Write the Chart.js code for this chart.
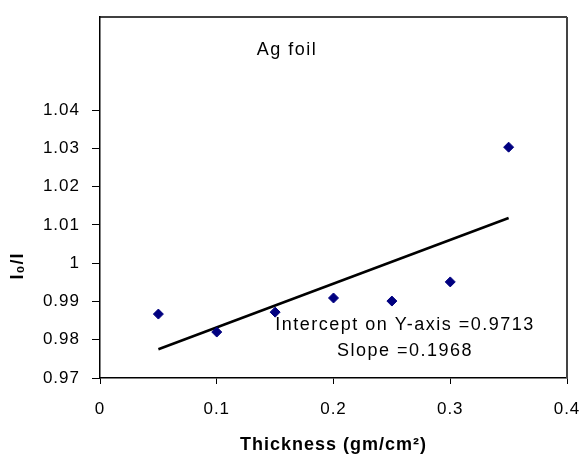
<!DOCTYPE html>
<html>
<head>
<meta charset="utf-8">
<script src="https://cdn.jsdelivr.net/npm/chart.js@4"></script>
<style>
  html, body { margin: 0; padding: 0; background: #fff; }
  #wrap { width: 581px; height: 460px; }
</style>
</head>
<body>
<div id="wrap"><canvas id="chart"></canvas></div>
<script>
const thickness = [0.05, 0.1, 0.15, 0.2, 0.25, 0.3, 0.35];
const ratio = [0.9867, 0.982, 0.9872, 0.9909, 0.9901, 0.9951, 1.0303];
const fitX = [0.05, 0.35];
const fitY = [0.9775, 1.0118];
const yTicks = [0.97, 0.98, 0.99, 1, 1.01, 1.02, 1.03, 1.04];
const xTicks = [0, 0.1, 0.2, 0.3, 0.4];

const FONT = '"Liberation Sans", Arial, sans-serif';
const fmt = v => String(Number(v.toFixed(2)));

// old Excel text runs wide, so space the letters out a bit
const spacing = {
  id: 'spacing',
  beforeUpdate(chart) { chart.ctx.letterSpacing = '1px'; },
  beforeDraw(chart) { chart.ctx.letterSpacing = '1px'; }
};

// box round the plot plus the free texts
const extras = {
  id: 'extras',
  afterDraw(chart) {
    const { ctx, chartArea: a } = chart;
    ctx.save();
    ctx.strokeStyle = '#000';
    ctx.lineWidth = 1.5;
    ctx.beginPath();
    ctx.moveTo(a.left, a.top);
    ctx.lineTo(a.right, a.top);
    ctx.stroke();
    ctx.strokeStyle = '#444';
    ctx.lineWidth = 2;
    ctx.beginPath();
    ctx.moveTo(a.right, a.top);
    ctx.lineTo(a.right, a.bottom);
    ctx.stroke();

    ctx.fillStyle = '#000';
    ctx.textAlign = 'center';
    ctx.textBaseline = 'middle';
    ctx.letterSpacing = '1.5px';
    ctx.font = '18px ' + FONT;
    ctx.fillText('Ag foil', 287, 50);
    ctx.fillText('Intercept on Y-axis =0.9713', 405, 325);
    ctx.fillText('Slope =0.1968', 405, 351);

    ctx.letterSpacing = '1px';
    ctx.translate(18, 266);
    ctx.rotate(-Math.PI / 2);
    ctx.font = 'bold 18px ' + FONT;
    ctx.fillText('I\u2080/I', 0, 0);
    ctx.restore();
  }
};

new Chart(document.getElementById('chart'), {
  type: 'scatter',
  data: {
    datasets: [{
      label: 'data',
      data: thickness.map((x, i) => ({ x, y: ratio[i] })),
      pointStyle: 'rectRot',
      pointRadius: 5,
      backgroundColor: '#000080',
      borderColor: '#000080',
      borderWidth: 1
    }, {
      label: 'fit',
      type: 'line',
      data: fitX.map((x, i) => ({ x, y: fitY[i] })),
      borderColor: '#000',
      borderWidth: 2.5,
      pointRadius: 0,
      fill: false
    }]
  },
  options: {
    responsive: true,
    maintainAspectRatio: false,
    animation: false,
    layout: { padding: { top: 17, right: 14, left: 0, bottom: 0 } },
    plugins: {
      legend: { display: false },
      tooltip: { enabled: false }
    },
    scales: {
      x: {
        type: 'linear',
        min: 0,
        max: 0.4,
        afterBuildTicks: s => { s.ticks = xTicks.map(value => ({ value })); },
        afterFit: s => { s.height = 82; s.paddingLeft = 0; s.paddingRight = 0; },
        grid: { drawOnChartArea: false, tickLength: 6, color: '#000' },
        border: { color: '#000', width: 1.5 },
        ticks: { color: '#000', padding: 15, font: { family: FONT, size: 17 }, callback: fmt },
        title: {
          display: true,
          text: 'Thickness (gm/cm\u00b2)',
          color: '#000',
          padding: { top: 4 },
          font: { family: FONT, size: 18, weight: 'bold' }
        }
      },
      y: {
        type: 'linear',
        min: 0.97,
        max: 1.0643,
        afterBuildTicks: s => { s.ticks = yTicks.map(value => ({ value })); },
        afterFit: s => { s.width = 100; s.paddingTop = 0; s.paddingBottom = 0; },
        grid: { drawOnChartArea: false, tickLength: 8, color: '#000' },
        border: { color: '#000', width: 1.5 },
        ticks: { color: '#000', padding: 12, font: { family: FONT, size: 17 }, callback: fmt }
      }
    }
  },
  plugins: [spacing, extras]
});
</script>
</body>
</html>
